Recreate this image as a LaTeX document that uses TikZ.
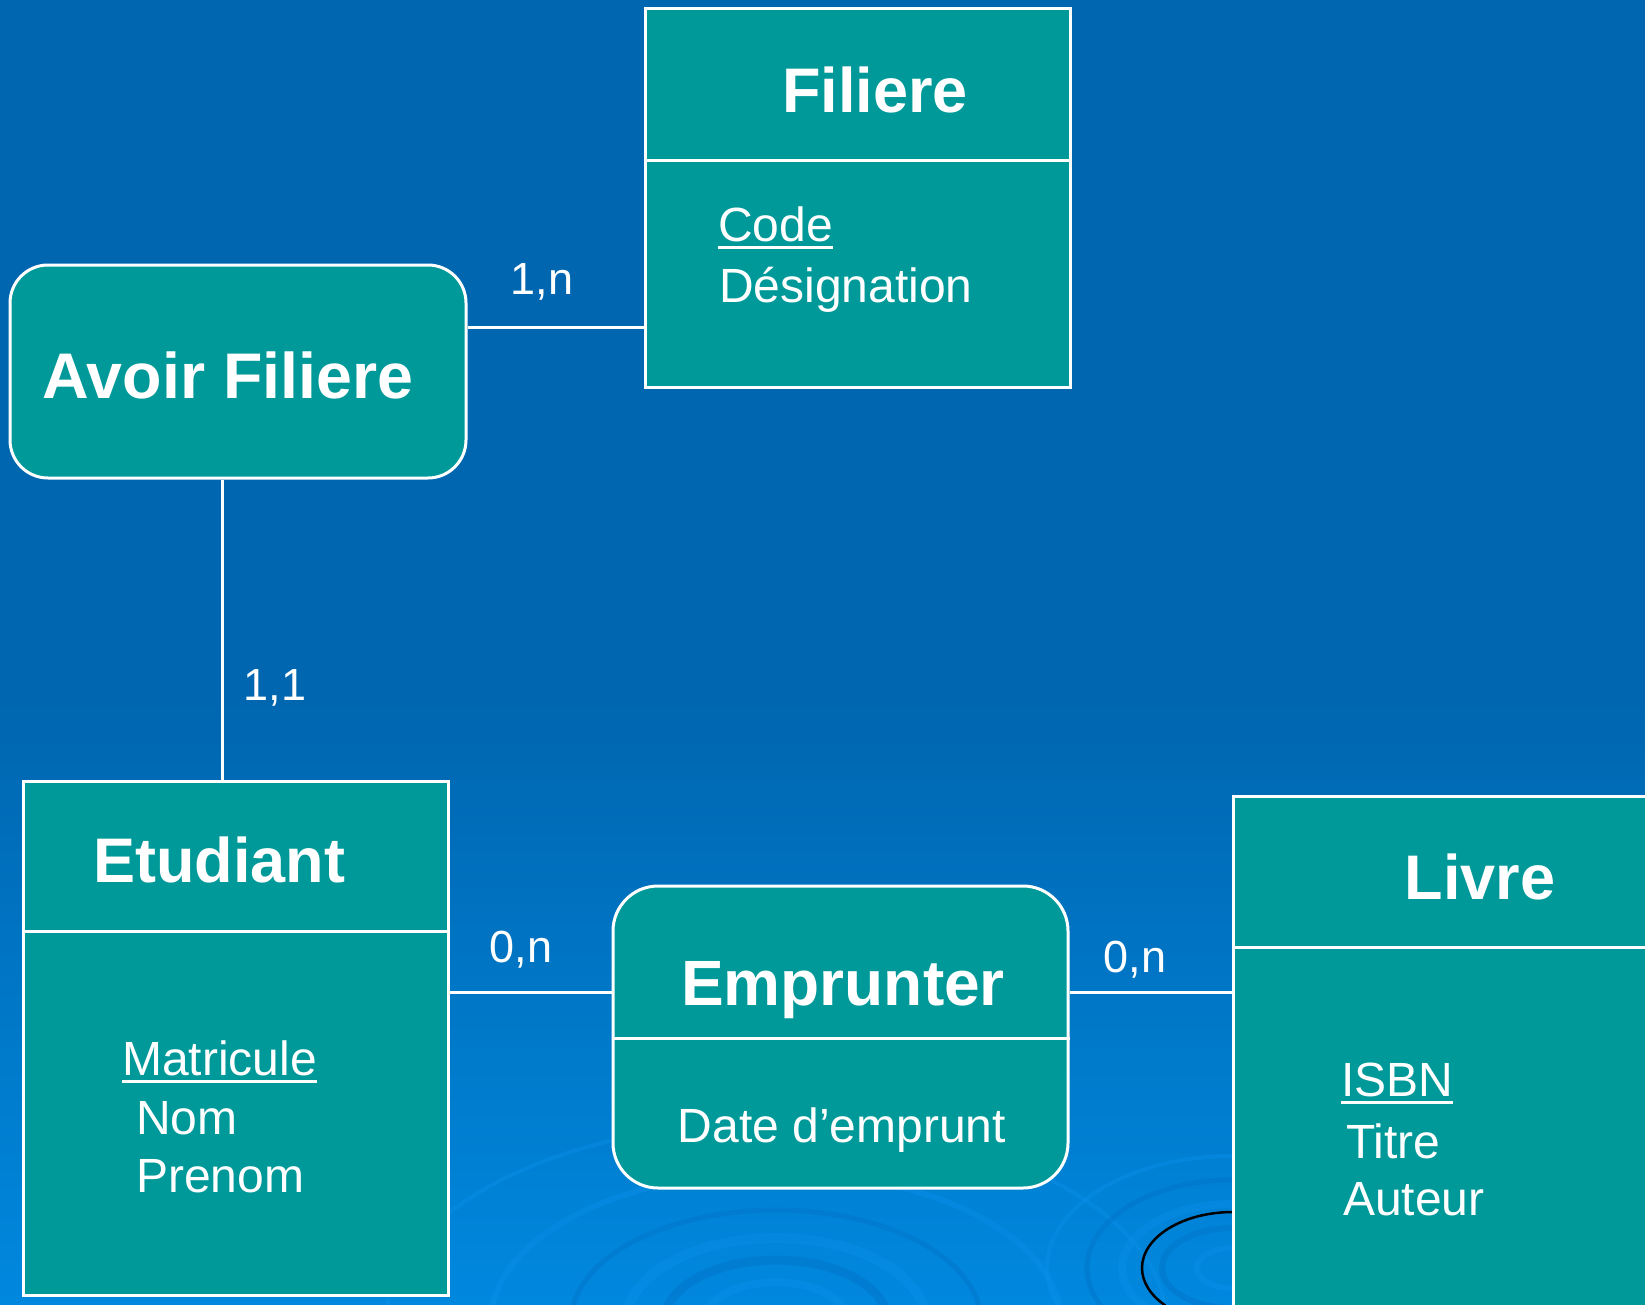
\documentclass[tikz,border=0pt]{standalone}
\usepackage{fontspec}
\setmainfont{Liberation Sans}
\definecolor{bgtop}{HTML}{0066B0}
\definecolor{bgbot}{HTML}{0088DE}
\definecolor{entfill}{HTML}{009999}
\definecolor{ripdark}{HTML}{0070C4}
\definecolor{riplight}{HTML}{0A90EA}
% underlined key attribute
\newcommand\keyul[1]{\setbox0\hbox{#1}\rlap{\rule[-0.17em]{\wd0}{0.075em}}\box0}
\tikzset{
  boxline/.style={draw=white, line width=3pt},
  entbox/.style={boxline, fill=entfill, rectangle, inner sep=0pt},
  relbox/.style={boxline, fill=entfill, rectangle, inner sep=0pt},
  link/.style={draw=white, line width=3pt},
  title/.style={font=\fontsize{63}{75}\selectfont\bfseries, text=white, inner sep=0pt},
  attr/.style={font=\fontsize{48}{58}\selectfont, text=white, inner sep=0pt},
  card/.style={font=\fontsize{45}{54}\selectfont, text=white, inner sep=0pt},
  ripple/.style={line width=#1},
}
\begin{document}
\begin{tikzpicture}[x=1pt,y=-1pt]
\clip (0,0) rectangle (1645,1304);
% backdrop
\fill[bgtop] (0,0) rectangle (1645,701);
\shade[top color=bgtop, bottom color=bgbot] (0,700) rectangle (1645,1304);
% water ripples
\begin{scope}[opacity=0.4]
  \draw[riplight, ripple=8pt] (776,1322) ellipse (72 and 40);
  \draw[ripdark, ripple=9pt] (776,1322) ellipse (112 and 62);
  \draw[riplight, ripple=10pt] (776,1322) ellipse (150 and 84);
  \draw[ripdark, ripple=5pt] (776,1322) ellipse (205 and 112);
  \draw[riplight, ripple=6pt] (776,1322) ellipse (285 and 150);
  \draw[riplight, ripple=4pt] (776,1322) ellipse (390 and 200);
  \draw[riplight, ripple=6pt] (1232,1268) ellipse (35 and 20);
  \draw[ripdark, ripple=6pt] (1232,1268) ellipse (70 and 40);
  \draw[riplight, ripple=8pt] (1232,1268) ellipse (110 and 64);
  \draw[ripdark, ripple=5pt] (1232,1268) ellipse (145 and 88);
  \draw[riplight, ripple=4pt] (1232,1268) ellipse (185 and 112);
\end{scope}
\draw[black, line width=2.5pt] (1233,1268) ++(-90:91 and 56) arc[start angle=-90, end angle=-222, x radius=91, y radius=56];

% entities
\node[entbox, minimum width=425pt, minimum height=379pt] (filiere) at (857.5,197.5) {};
\draw[boxline] (filiere.west |- 0,160) -- (filiere.east |- 0,160);
\node[title, anchor=base] (filiereT) at (875,112) {Filiere};
\node[attr, anchor=base west] (filiereA1) at (718,241) {\keyul{Code}};
\node[attr, anchor=base west] (filiereA2) at (719,302) {Désignation};

\node[entbox, minimum width=425pt, minimum height=514pt] (etudiant) at (235.5,1038) {};
\draw[boxline] (etudiant.west |- 0,931) -- (etudiant.east |- 0,931);
\node[title, anchor=base] (etudiantT) at (219,882) {Etudiant};
\node[attr, anchor=base west] (etudiantA1) at (122,1075) {\keyul{Matricule}};
\node[attr, anchor=base west] (etudiantA2) at (136,1134) {Nom};
\node[attr, anchor=base west] (etudiantA3) at (136,1192) {Prenom};

\node[entbox, minimum width=447pt, minimum height=544pt] (livre) at (1456.5,1068) {};
\draw[boxline] (livre.west |- 0,947) -- (livre.east |- 0,947);
\node[title, anchor=base] (livreT) at (1480,899) {Livre};
\node[attr, anchor=base west] (livreA1) at (1341,1096) {\keyul{ISBN}};
\node[attr, anchor=base west] (livreA2) at (1346,1158) {Titre};
\node[attr, anchor=base west] (livreA3) at (1343,1215) {Auteur};

% associations
\node[relbox, rounded corners=38pt, minimum width=456pt, minimum height=213pt] (avoir) at (238,371.5) {};
\node[title, font=\fontsize{64.5}{76}\selectfont\bfseries, anchor=base] (avoirT) at (228,398) {Avoir Filiere};

\node[relbox, rounded corners=45pt, minimum width=455pt, minimum height=302pt] (emprunter) at (840.5,1037) {};
\draw[boxline] (emprunter.west |- 0,1038) -- (emprunter.east |- 0,1038);
\node[title, font=\fontsize{64}{76}\selectfont\bfseries, anchor=base] (emprunterT) at (843,1005) {Emprunter};
\node[attr, anchor=base] (emprunterA1) at (842,1142) {Date d’emprunt};

% links and cardinalities
\draw[link] (avoir.east |- 0,327) -- (filiere.west |- 0,327);
\draw[link] (avoir.south -| 222,0) -- (etudiant.north -| 222,0);
\draw[link] (etudiant.east |- 0,992) -- (emprunter.west |- 0,992);
\draw[link] (emprunter.east |- 0,992) -- (livre.west |- 0,992);

\node[card, anchor=base] (c1) at (542,294) {1,n};
\node[card, anchor=base] (c2) at (275,700) {1,1};
\node[card, anchor=base] (c3) at (521,962) {0,n};
\node[card, anchor=base] (c4) at (1135,972) {0,n};
\end{tikzpicture}
\end{document}
